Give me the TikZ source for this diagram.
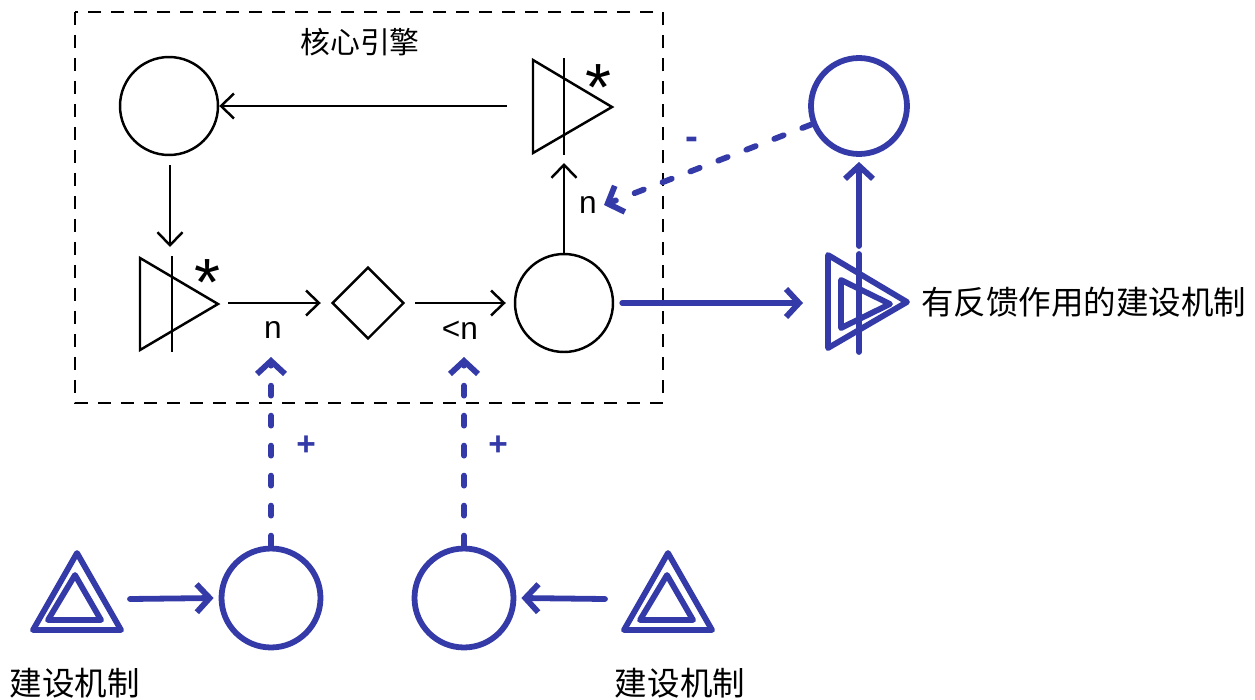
\documentclass[tikz,border=0pt]{standalone}
\usepackage{fontspec}
\setmainfont{Liberation Sans}
\newfontfamily\cjk{Noto Sans CJK SC}
\usepackage{tikz}
\usetikzlibrary{positioning,arrows.meta,shapes.geometric}
\usepackage{xcolor}
\definecolor{myblue}{RGB}{52,58,168}

\begin{document}
\begin{tikzpicture}[x=0.02cm, y=-0.02cm,
  blk/.style={line width=1.4pt, black},
  blu/.style={line width=3.3pt, myblue, line cap=round, line join=round},
  bdash/.style={blu, dash pattern=on 0.2cm off 0.4cm},
  barr/.style={-{Straight Barb[length=0.26cm, width=0.56cm]}},
  karr/.style={-{Straight Barb[length=0.26cm, width=0.5cm]}}]
  \useasboundingbox (0,0) rectangle (1255,700);

  % core engine
  \draw[line width=0.8pt, dash pattern=on 0.26cm off 0.2cm] (75,12) rectangle (663,403);
  \node[font=\cjk\fontsize{17}{20}\selectfont] (title) at (360,42) {核心引擎};

  \node[draw, circle, blk, minimum size=1.96cm] (c1) at (169,106) {};
  \node[draw, circle, blk, minimum size=1.96cm] (c2) at (564,303) {};
  \node[draw, diamond, blk, minimum size=1.44cm, inner sep=0pt] (d1) at (368,303) {};

  % amplifiers
  \draw[blk] (533,60) -- (533,153) -- (612,107) -- cycle;
  \draw[blk] (564,58) -- (564,155);
  \coordinate (a2w) at (507,106);
  \coordinate (a2s) at (564,163);
  \node[font=\fontsize{38}{38}\selectfont, anchor=base] (s2) at (598,110) {*};

  \draw[blk] (140,258) -- (140,350) -- (218,304) -- cycle;
  \draw[blk] (172,256) -- (172,352);
  \coordinate (a1top) at (170,165);
  \coordinate (a1n) at (170,247);
  \coordinate (a1e) at (228,303);
  \node[font=\fontsize{38}{38}\selectfont, anchor=base] (s1) at (207,305) {*};

  % loop
  \draw[blk, karr] (a2w) -- (c1);
  \draw[blk, karr] (a1top) -- (a1n);
  \draw[blk, karr] (a1e) -- ([xshift=-0.2cm]d1.west);
  \draw[blk, karr] ([xshift=0.2cm]d1.east) -- ([xshift=-0.16cm]c2.west);
  \draw[blk, karr] (c2.north) -- (a2s);
  \node[font=\fontsize{18}{20}\selectfont] (l1) at (273,330) {n};
  \node[font=\fontsize{18}{20}\selectfont] (l2) at (460,330) {<n};
  \node[font=\fontsize{18}{20}\selectfont] (l3) at (588,205) {n};

  % feedback mechanism
  \node[draw, circle, blu, minimum size=1.92cm] (c4) at (859,106) {};
  \draw[blu] (828,255) -- (828,348) -- (907,302) -- cycle;
  \draw[blu] (841,280) -- (841,328) -- (890,304) -- cycle;
  \draw[blu] (859,254) -- (859,352);
  \coordinate (fbw) at (803,303);
  \coordinate (fbn) at (859,246);
  \coordinate (fbtip) at (604,205);
  \node[font=\cjk\fontsize{18.5}{22}\selectfont, anchor=west] (fbl) at (915,302) {有反馈作用的建设机制};

  \draw[blu, barr] ([xshift=0.16cm]c2.east) -- (fbw);
  \draw[blu, barr] (fbn) -- ([yshift=-0.1cm]c4.south);
  \draw[bdash, barr] (c4) -- (fbtip);
  \node[myblue, font=\bfseries\fontsize{22}{22}\selectfont] (m1) at (692,143) {-};

  % mechanisms below
  \node[draw, circle, blu, minimum size=1.98cm] (c5) at (271,598) {};
  \node[draw, circle, blu, minimum size=1.98cm] (c6) at (464,598) {};
  \draw[blu] (33,630) -- (121,630) -- (77,553) -- cycle;
  \draw[blu] (48,620) -- (101,620) -- (75,575) -- cycle;
  \draw[blu] (624,630) -- (712,630) -- (668,553) -- cycle;
  \draw[blu] (640,620) -- (693,620) -- (667,575) -- cycle;
  \coordinate (m1e) at (130,599);
  \coordinate (m2w) at (605,599);
  \coordinate (p1) at (271,357);
  \coordinate (p2) at (464,357);

  \draw[blu, barr] (m1e) -- ([xshift=-0.1cm]c5.west);
  \draw[blu, barr] (m2w) -- ([xshift=0.1cm]c6.east);
  \draw[bdash, barr] (c5.north) -- (p1);
  \draw[bdash, barr] (c6.north) -- (p2);
  \node[myblue, font=\bfseries\fontsize{19}{20}\selectfont] (pl1) at (306,446) {+};
  \node[myblue, font=\bfseries\fontsize{19}{20}\selectfont] (pl2) at (498,446) {+};

  \node[font=\cjk\fontsize{18.5}{22}\selectfont] (t1) at (75,683) {建设机制};
  \node[font=\cjk\fontsize{18.5}{22}\selectfont] (t2) at (680,683) {建设机制};
\end{tikzpicture}
\end{document}
